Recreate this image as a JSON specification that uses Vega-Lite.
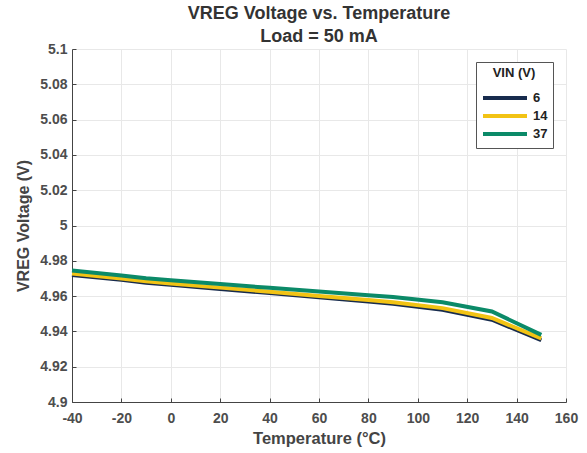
{
  "$schema": "https://vega.github.io/schema/vega-lite/v6.json",
  "width": 494,
  "height": 353,
  "autosize": "none",
  "padding": {"left": 72, "top": 49, "right": 21, "bottom": 51},
  "background": "white",
  "title": {
    "text": ["VREG Voltage vs. Temperature", "Load = 50 mA"],
    "font": "Liberation Sans",
    "fontSize": 18,
    "fontWeight": "bold",
    "color": "#333333",
    "lineHeight": 23,
    "anchor": "middle",
    "offset": 4,
    "dy": 8
  },
  "config": {
    "view": {"stroke": null},
    "font": "Liberation Sans"
  },
  "data": {
    "values": [
      {"t": -40, "v": 4.9720, "vin": "6"},
      {"t": -20, "v": 4.9692, "vin": "6"},
      {"t": -10, "v": 4.9676, "vin": "6"},
      {"t": 0, "v": 4.9664, "vin": "6"},
      {"t": 20, "v": 4.9640, "vin": "6"},
      {"t": 40, "v": 4.9617, "vin": "6"},
      {"t": 60, "v": 4.9593, "vin": "6"},
      {"t": 80, "v": 4.9570, "vin": "6"},
      {"t": 90, "v": 4.9557, "vin": "6"},
      {"t": 110, "v": 4.9522, "vin": "6"},
      {"t": 130, "v": 4.9466, "vin": "6"},
      {"t": 150, "v": 4.9350, "vin": "6"},
      {"t": -40, "v": 4.9728, "vin": "14"},
      {"t": -20, "v": 4.9700, "vin": "14"},
      {"t": -10, "v": 4.9684, "vin": "14"},
      {"t": 0, "v": 4.9672, "vin": "14"},
      {"t": 20, "v": 4.9648, "vin": "14"},
      {"t": 40, "v": 4.9625, "vin": "14"},
      {"t": 60, "v": 4.9601, "vin": "14"},
      {"t": 80, "v": 4.9578, "vin": "14"},
      {"t": 90, "v": 4.9565, "vin": "14"},
      {"t": 110, "v": 4.9532, "vin": "14"},
      {"t": 130, "v": 4.9476, "vin": "14"},
      {"t": 150, "v": 4.9360, "vin": "14"},
      {"t": -40, "v": 4.9745, "vin": "37"},
      {"t": -20, "v": 4.9717, "vin": "37"},
      {"t": -10, "v": 4.9701, "vin": "37"},
      {"t": 0, "v": 4.9690, "vin": "37"},
      {"t": 20, "v": 4.9668, "vin": "37"},
      {"t": 40, "v": 4.9647, "vin": "37"},
      {"t": 60, "v": 4.9626, "vin": "37"},
      {"t": 80, "v": 4.9605, "vin": "37"},
      {"t": 90, "v": 4.9595, "vin": "37"},
      {"t": 110, "v": 4.9565, "vin": "37"},
      {"t": 130, "v": 4.9513, "vin": "37"},
      {"t": 150, "v": 4.9380, "vin": "37"}
    ]
  },
  "mark": {"type": "line", "strokeWidth": 4, "strokeJoin": "miter"},
  "encoding": {
    "x": {
      "field": "t",
      "type": "quantitative",
      "scale": {"domain": [-40, 160], "nice": false, "zero": false},
      "axis": {
        "values": [-40, -20, 0, 20, 40, 60, 80, 100, 120, 140, 160],
        "labelExpr": "'' + datum.value",
        "title": "Temperature (°C)",
        "titleFontSize": 16.5,
        "titleFontWeight": "bold",
        "titleColor": "#444444",
        "titlePadding": 5,
        "labelFontSize": 14,
        "labelFontWeight": "bold",
        "labelColor": "#4d4d4d",
        "labelPadding": 13,
        "tickSize": -4,
        "tickColor": "#444444",
        "domainColor": "#444444",
        "gridColor": "#e8e8e8",
        "labelFlush": false,
        "labelOverlap": false
      }
    },
    "y": {
      "field": "v",
      "type": "quantitative",
      "scale": {"domain": [4.9, 5.1], "nice": false, "zero": false},
      "axis": {
        "values": [4.9, 4.92, 4.94, 4.96, 4.98, 5, 5.02, 5.04, 5.06, 5.08, 5.1],
        "labelExpr": "'' + datum.value",
        "title": "VREG Voltage (V)",
        "titleFontSize": 16,
        "titleFontWeight": "bold",
        "titleColor": "#444444",
        "titlePadding": 8,
        "labelFontSize": 14,
        "labelFontWeight": "bold",
        "labelColor": "#4d4d4d",
        "labelPadding": 9,
        "tickSize": -4,
        "tickColor": "#444444",
        "domainColor": "#444444",
        "gridColor": "#e8e8e8",
        "labelFlush": false,
        "labelOverlap": false
      }
    },
    "color": {
      "field": "vin",
      "type": "nominal",
      "sort": ["6", "14", "37"],
      "scale": {"domain": ["6", "14", "37"], "range": ["#172b4d", "#f2c314", "#0b8a68"]},
      "legend": {
        "title": "VIN (V)",
        "orient": "top-right",
        "offset": 13,
        "titleFontSize": 13,
        "titleFontWeight": "bold",
        "titleColor": "#222222",
        "titleAnchor": "middle",
        "labelFontSize": 13,
        "labelFontWeight": "bold",
        "labelColor": "#222222",
        "labelOffset": 4,
        "symbolType": "stroke",
        "symbolSize": 1936,
        "symbolStrokeWidth": 4,
        "clipHeight": 18,
        "strokeColor": "#555555",
        "fillColor": "white",
        "padding": 5,
        "titlePadding": 9,
        "rowPadding": 0
      }
    },
    "order": {"field": "vin"}
  }
}
